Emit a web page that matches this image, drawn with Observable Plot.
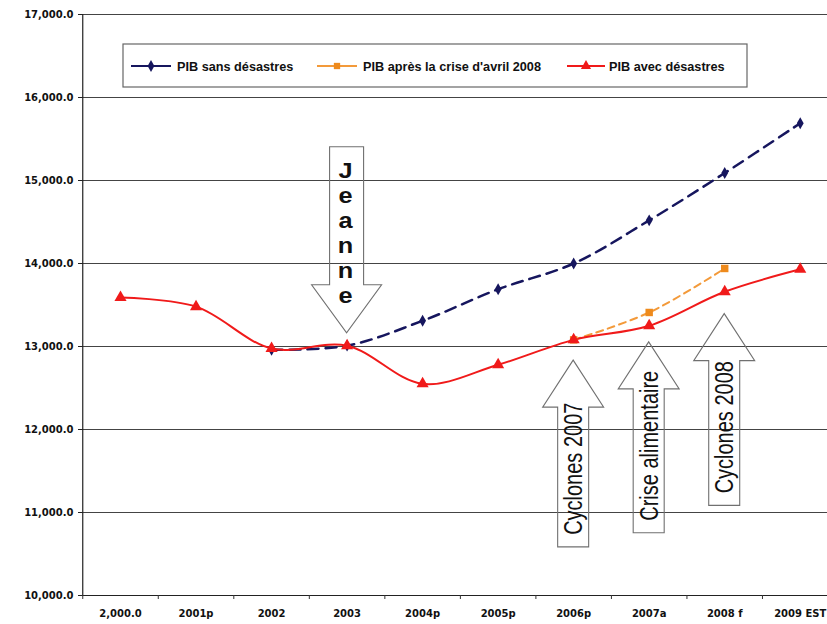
<!DOCTYPE html>
<html>
<head>
<meta charset="utf-8">
<script src="https://cdn.jsdelivr.net/npm/d3@7"></script>
<script src="https://cdn.jsdelivr.net/npm/@observablehq/plot@0.6"></script>
<style>
  body { margin: 0; background: #fff; }
  #chart svg { display: block; }
</style>
</head>
<body>
<div id="chart"></div>
<script>
// Years on the horizontal axis (labels as printed)
const years = ["2,000.0", "2001p", "2002", "2003", "2004p", "2005p", "2006p", "2007a", "2008 f", "2009 EST"];

// PIB series (null = no value for that year)
const pibSansDesastres = [null, null, 12960, 13010, 13310, 13690, 14000, 14520, 15090, 15690];
const pibApresCrise    = [null, null, null, null, null, null, 13080, 13410, 13940, null];
const pibAvecDesastres = [13590, 13480, 12975, 13010, 12550, 12780, 13080, 13250, 13660, 13930];

// Vertical axis ticks
const yTicks = [10000, 11000, 12000, 13000, 14000, 15000, 16000, 17000];

// Series names shown in the legend
const seriesNames = ["PIB sans désastres", "PIB après la crise d'avril 2008", "PIB avec désastres"];

// Events marked with arrows: year, value at the arrow tip, value at its tail
const eventLabels = ["Jeanne", "Cyclones 2007", "Crise alimentaire", "Cyclones 2008"];
const eventYears  = ["2003", "2006p", "2007a", "2008 f"];
const eventTips   = [13160, 12830, 13050, 13390];
const eventTails  = [15400, 10580, 10750, 11080];

const toRows = (values) => values
  .map((v, i) => ({i, v}))
  .filter(d => d.v != null);

const sans = toRows(pibSansDesastres);
const apres = toRows(pibApresCrise);
const avec = toRows(pibAvecDesastres);

const events = eventLabels.map((label, k) => ({
  label,
  i: years.indexOf(eventYears[k]),
  tip: eventTips[k],
  tail: eventTails[k]
}));

const NAVY = "#16165e";
const ORANGE = "#f39a3a";
const ORANGE_MARK = "#ee8a1c";
const RED = "#f01a1a";

// Hollow block arrows with their captions
function eventArrows(index, scales) {
  const g = d3.create("svg:g");
  for (const e of events) {
    const cx = scales.x(e.i);
    const ty = scales.y(e.tip);
    const ly = scales.y(e.tail);
    const down = ty > ly;
    const sw = down ? 17 : 15.5;   // half shaft width
    const hw = down ? 35 : 30.5;   // half head width
    const hl = down ? 48 : 47;     // head length
    const s = down ? 1 : -1;
    const by = ty - s * hl;        // head base
    const pts = [
      [cx - sw, ly], [cx - sw, by], [cx - hw, by], [cx, ty],
      [cx + hw, by], [cx + sw, by], [cx + sw, ly]
    ];
    g.append("path")
      .attr("d", "M" + pts.map(p => p.join(",")).join("L") + "Z")
      .attr("fill", "none")
      .attr("stroke", "#707070")
      .attr("stroke-width", 1.1);
    if (down) {
      // letters stacked vertically in the shaft
      const letters = [...e.label];
      letters.forEach((ch, j) => {
        g.append("text")
          .attr("x", 0).attr("y", 0)
          .attr("transform", `translate(${cx - 1},${ly + 31 + j * 25}) scale(1.15,1)`)
          .attr("text-anchor", "middle")
          .attr("font-family", "Liberation Sans, Arial, sans-serif")
          .attr("font-weight", "bold")
          .attr("font-size", 22)
          .attr("fill", "#111")
          .text(ch);
      });
    } else {
      g.append("text")
        .attr("x", 0).attr("y", 0)
        .attr("transform", `translate(${cx + 9},${ly - 12}) rotate(-90) scale(1,1.25)`)
        .attr("text-anchor", "start")
        .attr("font-family", "Liberation Sans, Arial, sans-serif")
        .attr("font-weight", "normal")
        .attr("font-size", 20)
        .attr("fill", "#111")
        .text(e.label);
    }
  }
  return g.node();
}

// Boxed legend across the top of the plot area
function legendBox() {
  const g = d3.create("svg:g").attr("text-anchor", "start");
  g.append("rect")
    .attr("x", 123).attr("y", 44).attr("width", 624).attr("height", 43)
    .attr("fill", "#fff").attr("stroke", "#666").attr("stroke-width", 1.2);
  const items = [
    {x1: 131, x2: 171, tx: 177, color: NAVY, mark: NAVY, sym: d3.symbolDiamond, size: 40},
    {x1: 317, x2: 357, tx: 363, color: ORANGE, mark: ORANGE_MARK, sym: d3.symbolSquare, size: 40},
    {x1: 567, x2: 605, tx: 609, color: RED, mark: RED, sym: d3.symbolTriangle, size: 45}
  ];
  const cy = 66;
  items.forEach((it, k) => {
    g.append("line")
      .attr("x1", it.x1).attr("x2", it.x2).attr("y1", cy).attr("y2", cy)
      .attr("stroke", it.color).attr("stroke-width", 2);
    g.append("path")
      .attr("d", d3.symbol(it.sym, it.size)())
      .attr("transform", `translate(${(it.x1 + it.x2) / 2},${cy})`)
      .attr("fill", it.mark);
    g.append("text")
      .attr("x", it.tx).attr("y", cy)
      .attr("dy", "0.36em")
      .attr("text-anchor", "start")
      .attr("font-family", "Liberation Sans, Arial, sans-serif")
      .attr("font-weight", "bold")
      .attr("font-size", 12.7)
      .attr("fill", "#111")
      .text(seriesNames[k]);
  });
  return g.node();
}

const chart = Plot.plot({
  width: 827,
  height: 624,
  marginLeft: 83,
  marginRight: 0,
  marginTop: 14,
  marginBottom: 29,
  x: {type: "linear", domain: [-0.5, 9.5], range: [82.25, 837.5], axis: null},
  y: {domain: [10000, 17000], axis: null},
  style: {
    fontFamily: "DejaVu Sans, sans-serif",
    fontSize: "10px",
    fontWeight: "bold",
    background: "#fff",
    color: "#111",
    overflow: "visible"
  },
  marks: [
    // horizontal gridlines
    Plot.ruleY(yTicks.slice(1), {stroke: "#444", strokeWidth: 1, strokeOpacity: 1}),
    // axes lines
    Plot.ruleY([10000], {stroke: "#222", strokeWidth: 1.2}),
    Plot.ruleX([-0.5], {y1: 10000, y2: 17000, stroke: "#222", strokeWidth: 1.2}),
    Plot.axisY({ticks: yTicks, tickFormat: d3.format(",.1f"), tickSize: 5, tickPadding: 5, stroke: "#222", label: null}),
    Plot.axisX({ticks: d3.range(10), tickFormat: i => years[i], tickSize: 0, tickPadding: 14, label: null}),
    Plot.axisX({ticks: d3.range(11).map(i => i - 0.5), tickFormat: () => "", tickSize: 4, stroke: "#333", label: null}),
    legendBox,
    eventArrows,
    // series
    Plot.line(sans, {x: "i", y: "v", stroke: NAVY, strokeWidth: 2.5, strokeDasharray: "11,7", curve: "catmull-rom"}),
    Plot.line(apres, {x: "i", y: "v", stroke: ORANGE, strokeWidth: 2, strokeDasharray: "7,5", curve: "catmull-rom"}),
    Plot.line(avec, {x: "i", y: "v", stroke: RED, strokeWidth: 2, curve: "catmull-rom"}),
    Plot.dot(sans, {x: "i", y: "v", symbol: "diamond", r: 3.6, fill: NAVY, stroke: "none"}),
    Plot.dot(apres, {x: "i", y: "v", symbol: "square", r: 4.2, fill: ORANGE_MARK, stroke: "none"}),
    Plot.dot(avec, {x: "i", y: "v", symbol: "triangle", r: 4.5, fill: RED, stroke: "none"})
  ]
});

document.getElementById("chart").append(chart);
</script>
</body>
</html>
